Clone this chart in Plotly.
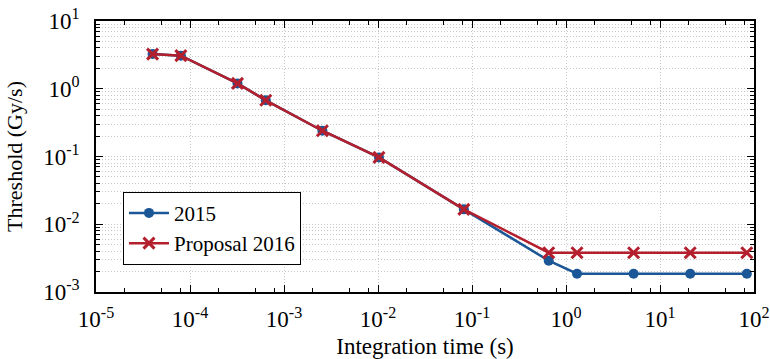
import plotly.graph_objects as go

# Integration times (s)
t_2015 = [4e-5, 8e-5, 3.2e-4, 6.4e-4, 2.56e-3, 1.024e-2, 8.192e-2, 0.655, 1.31, 5.24, 20.97, 83.89]
thr_2015 = [3.25, 3.08, 1.2, 0.675, 0.24, 0.097, 0.0166, 0.0029, 0.00186, 0.00186, 0.00186, 0.00186]

t_2016 = [4e-5, 8e-5, 3.2e-4, 6.4e-4, 2.56e-3, 1.024e-2, 8.192e-2, 0.655, 1.31, 5.24, 20.97, 83.89]
thr_2016 = [3.25, 3.08, 1.2, 0.675, 0.24, 0.097, 0.0166, 0.0038, 0.0038, 0.0038, 0.0038, 0.0038]

x_tickvals = [1e-5, 1e-4, 1e-3, 1e-2, 1e-1, 1e0, 1e1, 1e2]
x_ticktext = ["10<sup>-5</sup>", "10<sup>-4</sup>", "10<sup>-3</sup>", "10<sup>-2</sup>",
              "10<sup>-1</sup>", "10<sup>0</sup>", "10<sup>1</sup>", "10<sup>2</sup>"]
y_tickvals = [1e-3, 1e-2, 1e-1, 1e0, 1e1]
y_ticktext = ["10<sup>-3</sup>", "10<sup>-2</sup>", "10<sup>-1</sup>", "10<sup>0</sup>", "10<sup>1</sup>"]

x_minor = [m * 10.0 ** e for e in range(-5, 2) for m in (2, 5, 8)]
y_minor = [m * 10.0 ** e for e in range(-3, 1) for m in range(2, 10)]

BLUE = "#1b5796"
RED = "#b41f2e"
FONT = "Liberation Serif"
GRID = "#c8c8c8"

fig = go.Figure()
fig.add_trace(go.Scatter(
    x=t_2015, y=thr_2015, name="2015", mode="lines+markers",
    line=dict(color=BLUE, width=2.5),
    marker=dict(symbol="circle", size=10, color=BLUE),
))
fig.add_trace(go.Scatter(
    x=t_2016, y=thr_2016, name="Proposal 2016", mode="lines+markers",
    line=dict(color=RED, width=2.5),
    marker=dict(symbol="x-thin", size=11, color=RED, line=dict(color=RED, width=3)),
))

axis_common = dict(
    type="log", showline=True, linecolor="black", linewidth=1.5, mirror="allticks",
    ticks="inside", ticklen=7, tickcolor="black", tickwidth=1,
    tickfont=dict(family=FONT, size=23, color="black"),
    gridcolor=GRID, griddash="1px,2px", gridwidth=1, zeroline=False,
    automargin=False, ticklabeloverflow="allow",
)

fig.update_xaxes(
    **axis_common,
    range=[-5, 2], tickmode="array", tickvals=x_tickvals, ticktext=x_ticktext,
    ticklabelstandoff=6,
    minor=dict(tickmode="array", tickvals=x_minor, ticks="inside", ticklen=4,
               tickcolor="black", showgrid=False),
    title=dict(text="Integration time (s)", font=dict(family=FONT, size=23, color="black"),
               standoff=8),
)
fig.update_yaxes(
    **axis_common,
    range=[-3, 1], tickmode="array", tickvals=y_tickvals, ticktext=y_ticktext,
    ticklabelstandoff=10,
    minor=dict(tickmode="array", tickvals=y_minor, ticks="inside", ticklen=4,
               tickcolor="black", showgrid=True, gridcolor=GRID, griddash="1px,2px"),
    title=dict(text="Threshold (Gy/s)", font=dict(family=FONT, size=22, color="black"),
               standoff=15),
)

fig.update_layout(
    width=770, height=359,
    margin=dict(l=96, r=16, t=21, b=67),
    paper_bgcolor="white", plot_bgcolor="white",
    font=dict(family=FONT, size=22, color="black"),
    showlegend=True,
    legend=dict(
        x=0.041, y=0.37, xanchor="left", yanchor="top",
        bgcolor="white", bordercolor="black", borderwidth=1,
        font=dict(family=FONT, size=21, color="black"),
        tracegroupgap=0, itemwidth=40,
    ),
)

fig.write_html("out.html", config={"displayModeBar": False},
               post_script="document.body.style.margin='0';document.body.style.overflow='hidden';")
